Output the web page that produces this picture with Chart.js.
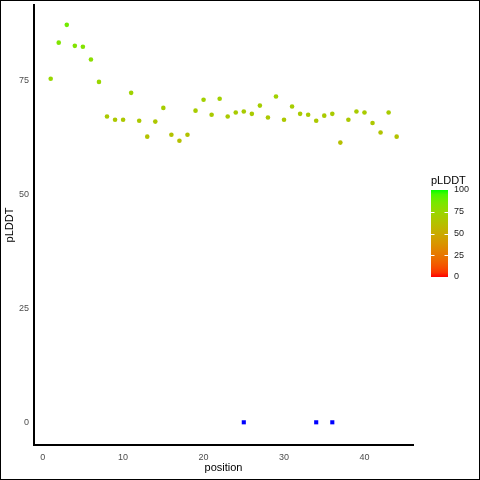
<!DOCTYPE html>
<html>
<head>
<meta charset="utf-8">
<script src="https://cdn.jsdelivr.net/npm/chart.js@4.4.0/dist/chart.umd.min.js"></script>
<style>
  body { margin: 0; background: #fff; }
  #wrap { width: 480px; height: 480px; }
</style>
</head>
<body>
<div id="wrap"><canvas id="plddt-canvas" width="480" height="480"></canvas></div>
<script>
// residue positions and their pLDDT scores
var positions = [1, 2, 3, 4, 5, 6, 7, 8, 9, 10, 11, 12, 13, 14, 15, 16, 17, 18, 19, 20, 21, 22,
    23, 24, 25, 26, 27, 28, 29, 30, 31, 32, 33, 34, 35, 36, 37, 38, 39, 40, 41, 42, 43, 44];
var plddt = [75.3, 83.2, 87.1, 82.5, 82.3, 79.5, 74.6, 67.0, 66.3, 66.3, 72.2, 66.1, 62.6, 65.9,
    68.9, 63.0, 61.7, 63.0, 68.3, 70.7, 67.4, 70.9, 67.0, 67.9, 68.1, 67.6, 69.4, 66.8, 71.4, 66.3,
    69.2, 67.6, 67.4, 66.1, 67.2, 67.6, 61.3, 66.3, 68.1, 67.9, 65.6, 63.5, 67.9, 62.6];
// blue marks sitting on zero
var zeroPositions = [25, 34, 36];
var zeroValues = [0, 0, 0];
var xTicks = [0, 10, 20, 30, 40];
var yTicks = [0, 25, 50, 75];
var legendTicks = [0, 25, 50, 75, 100];

const FONT = "'Liberation Sans', Arial, sans-serif";

// red -> green interpolated in Lab space (like ggplot's gradient)
function toLin(c) { c /= 255; return c <= 0.04045 ? c / 12.92 : Math.pow((c + 0.055) / 1.055, 2.4); }
function fromLin(c) { c = c <= 0.0031308 ? 12.92 * c : 1.055 * Math.pow(c, 1 / 2.4) - 0.055; return Math.round(Math.max(0, Math.min(1, c)) * 255); }
function rgbToLab(r, g, b) {
    r = toLin(r); g = toLin(g); b = toLin(b);
    var x = (r * 0.4124 + g * 0.3576 + b * 0.1805) / 0.95047;
    var y = (r * 0.2126 + g * 0.7152 + b * 0.0722);
    var z = (r * 0.0193 + g * 0.1192 + b * 0.9505) / 1.08883;
    var f = function (t) { return t > 0.008856 ? Math.cbrt(t) : 7.787 * t + 16 / 116; };
    var fx = f(x), fy = f(y), fz = f(z);
    return [116 * fy - 16, 500 * (fx - fy), 200 * (fy - fz)];
}
function labToRgb(L, a, bb) {
    var fy = (L + 16) / 116, fx = fy + a / 500, fz = fy - bb / 200;
    var inv = function (t) { return t * t * t > 0.008856 ? t * t * t : (t - 16 / 116) / 7.787; };
    var x = inv(fx) * 0.95047, y = inv(fy), z = inv(fz) * 1.08883;
    var r = x * 3.2406 - y * 1.5372 - z * 0.4986;
    var g = -x * 0.9689 + y * 1.8758 + z * 0.0415;
    var b = x * 0.0557 - y * 0.2040 + z * 1.0570;
    return 'rgb(' + fromLin(r) + ',' + fromLin(g) + ',' + fromLin(b) + ')';
}
var labLow = rgbToLab(255, 0, 0);
var labHigh = rgbToLab(0, 255, 0);
function scoreColor(v) {
    var t = Math.max(0, Math.min(1, v / 100));
    return labToRgb(labLow[0] + t * (labHigh[0] - labLow[0]),
        labLow[1] + t * (labHigh[1] - labLow[1]),
        labLow[2] + t * (labHigh[2] - labLow[2]));
}

// colour bar legend + outer frame
const colorbarPlugin = {
    id: 'colorbar',
    afterDraw(chart) {
        const ctx = chart.ctx;
        const x0 = 431, w = 17, top = 190, bottom = 277;
        ctx.save();
        const grad = ctx.createLinearGradient(0, bottom, 0, top);
        for (var i = 0; i <= 20; i++) {
            grad.addColorStop(i / 20, scoreColor(i * 5));
        }
        ctx.fillStyle = grad;
        ctx.fillRect(x0, top, w, bottom - top);
        ctx.strokeStyle = '#fff';
        ctx.lineWidth = 1;
        ctx.font = '9px ' + FONT;
        ctx.textBaseline = 'middle';
        ctx.textAlign = 'left';
        legendTicks.forEach(function (t) {
            var y = bottom - (t / 100) * (bottom - top);
            if (t > 0 && t < 100) {
                ctx.beginPath();
                ctx.moveTo(x0, Math.round(y) + 0.5); ctx.lineTo(x0 + 3.5, Math.round(y) + 0.5);
                ctx.moveTo(x0 + w - 3.5, Math.round(y) + 0.5); ctx.lineTo(x0 + w, Math.round(y) + 0.5);
                ctx.stroke();
            }
            ctx.fillStyle = '#1a1a1a';
            ctx.fillText(String(t), 454, y);
        });
        ctx.font = '11px ' + FONT;
        ctx.fillStyle = '#000';
        ctx.fillText('pLDDT', 431, 181);
        ctx.strokeStyle = '#000';
        ctx.lineWidth = 1;
        ctx.strokeRect(0.5, 0.5, 479, 479);
        ctx.restore();
    }
};

const ctx = document.getElementById('plddt-canvas').getContext('2d');
var plddtChart = new Chart(ctx, {
    type: 'scatter',
    data: {
        datasets: [{
            label: 'pLDDT',
            data: positions.map(function (p, i) { return { x: p, y: plddt[i] }; }),
            pointStyle: 'circle',
            pointRadius: 2.3,
            pointBorderWidth: 0,
            pointBackgroundColor: plddt.map(scoreColor)
        }, {
            label: 'zero',
            data: zeroPositions.map(function (p, i) { return { x: p, y: zeroValues[i] }; }),
            pointStyle: 'rect',
            pointRadius: 2.9,
            pointBorderWidth: 0,
            pointBackgroundColor: '#0000ff'
        }]
    },
    options: {
        responsive: false,
        animation: false,
        layout: { padding: { top: 5, right: 67, left: 0, bottom: 0 } },
        plugins: {
            legend: { display: false },
            tooltip: { enabled: false }
        },
        scales: {
            x: {
                type: 'linear',
                min: -1.075,
                max: 46.03,
                afterBuildTicks: function (scale) { scale.ticks = xTicks.map(function (v) { return { value: v }; }); },
                afterFit: function (scale) { scale.height = 35; scale.paddingLeft = 0; scale.paddingRight = 0; },
                grid: { display: false, drawTicks: false },
                border: { display: true, color: '#000', width: 2 },
                ticks: { color: '#4d4d4d', font: { size: 9, family: FONT }, padding: 7 },
                title: { display: true, text: 'position', color: '#000', font: { size: 11, family: FONT }, padding: { top: 0, bottom: 5 } }
            },
            y: {
                type: 'linear',
                min: -4.975,
                max: 91.45,
                afterBuildTicks: function (scale) { scale.ticks = yTicks.map(function (v) { return { value: v }; }); },
                afterFit: function (scale) { scale.width = 34; scale.paddingTop = 0; scale.paddingBottom = 0; },
                grid: { display: false, drawTicks: false },
                border: { display: true, color: '#000', width: 2 },
                ticks: { color: '#4d4d4d', font: { size: 9, family: FONT }, padding: 5 },
                title: { display: true, text: 'pLDDT', color: '#000', font: { size: 11, family: FONT }, padding: { top: 3, bottom: 0 } }
            }
        }
    },
    plugins: [colorbarPlugin]
});
</script>
</body>
</html>
